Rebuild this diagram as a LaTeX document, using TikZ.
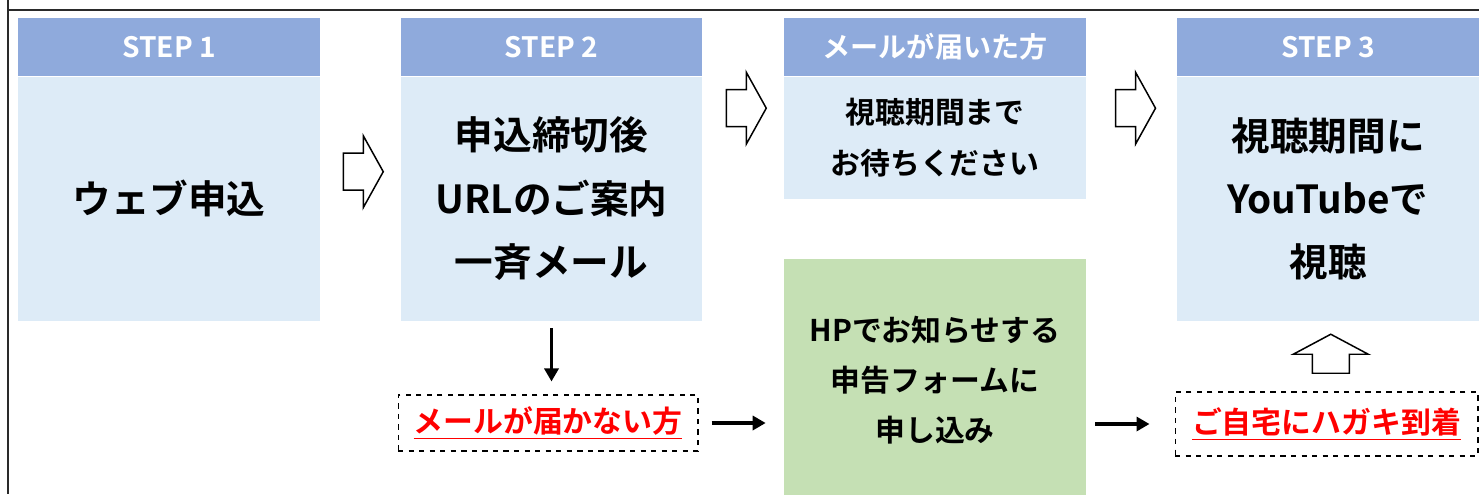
\documentclass[tikz,border=0pt]{standalone}
\usepackage{fontspec}
\setmainfont{Noto Sans CJK JP}[BoldFont={Noto Sans CJK JP Bold}]
\usetikzlibrary{positioning,calc,arrows.meta}

\definecolor{headblue}{HTML}{8FAADC}
\definecolor{bodyblue}{HTML}{DDEBF7}
\definecolor{formgreen}{HTML}{C5E0B4}
\definecolor{framegray}{HTML}{2A2A2A}
\definecolor{notered}{HTML}{FF0000}

\tikzset{
  head/.style={fill=headblue, text=white, minimum width=6.04cm, minimum height=1.16cm,
    inner sep=0pt, font=\bfseries\fontsize{16}{19}\selectfont},
  body/.style={fill=bodyblue, minimum width=6.04cm, inner sep=0pt, align=center,
    font=\bfseries\fontsize{22}{36}\selectfont},
  note/.style={draw, dashed, line width=0.6pt, inner sep=0pt, text=notered,
    font=\bfseries\fontsize{17}{20}\selectfont},
  flow/.style={line width=2pt, -{Triangle[length=0.26cm, width=0.28cm]}},
  rarrow/.pic={\draw[line width=0.85pt, fill=white]
    (-20,-18.5) -- (0,-18.5) -- (0,-36) -- (20,0) -- (0,36) -- (0,18.5) -- (-20,18.5) -- cycle;},
  uarrow/.pic={\draw[line width=0.85pt, fill=white]
    (0,-20) -- (37.5,0) -- (18.5,0) -- (18.5,19) -- (-18.5,19) -- (-18.5,0) -- (-37.5,0) -- cycle;},
}

\begin{document}
\begin{tikzpicture}[x=0.02cm, y=-0.02cm]
    \useasboundingbox (0,0) rectangle (1479,494);
    % 枠線
    \draw[framegray, line width=1.5pt] (8,0) -- (8,494);
    \draw[framegray, line width=1.5pt] (8,10) -- (1479,10);
    % 見出し
    \node[head] (h1) at (169,47) {STEP 1};
    \node[head] (h2) at (551.5,47) {STEP 2};
    \node[head] (h3) at (935,47) {メールが届いた方};
    \node[head] (h4) at (1328,47) {STEP 3};
    % 本文の箱
    \node[body, minimum height=4.88cm, below=0pt of h1] (b1) {ウェブ申込};
    \node[body, minimum height=4.88cm, below=0pt of h2] (b2) {申込締切後\\URLのご案内\\一斉メール};
    \node[body, minimum height=2.44cm, below=0pt of h3,
      font=\bfseries\fontsize{17}{28.5}\selectfont] (b3) {視聴期間まで\\お待ちください};
    \node[body, minimum height=4.88cm, below=0pt of h4] (b4) {視聴期間に\\YouTubeで\\視聴};
    \node[body, fill=formgreen, minimum height=4.84cm, below=1.2cm of b3,
      font=\bfseries\fontsize{17}{28.5}\selectfont] (form) {HPでお知らせする\\申告フォームに\\申し込み};
    % 届かない場合
    \node[note, minimum width=6cm, minimum height=1.12cm] (miss) at (548,423) {\underline{メールが届かない方}};
    \node[note, minimum width=6.06cm, minimum height=1.28cm] (card) at (1326.5,424) {\underline{ご自宅にハガキ到着}};
    % 矢印
    \pic at ($(b1.east)!0.5!(b2.west)+(3,-27)$) {rarrow};
    \pic at ($(b2.east)!0.5!(b3.west)+(3,-60)$) {rarrow};
    \pic at ($(b3.east)!0.5!(b4.west)+(4,-60)$) {rarrow};
    \pic at ($(card.north)!0.5!(b4.south)+(3.5,-2)$) {uarrow};
    \draw[flow, shorten <=0.14cm, shorten >=0.26cm] (b2.south) -- (b2.south |- miss.north);
    \draw[flow, shorten <=0.26cm, shorten >=0.36cm] (miss.east) -- (miss.east -| form.west);
    \draw[flow, shorten <=0.18cm, shorten >=0.5cm] (form.east |- card.west) -- (card.west);
\end{tikzpicture}
\end{document}
